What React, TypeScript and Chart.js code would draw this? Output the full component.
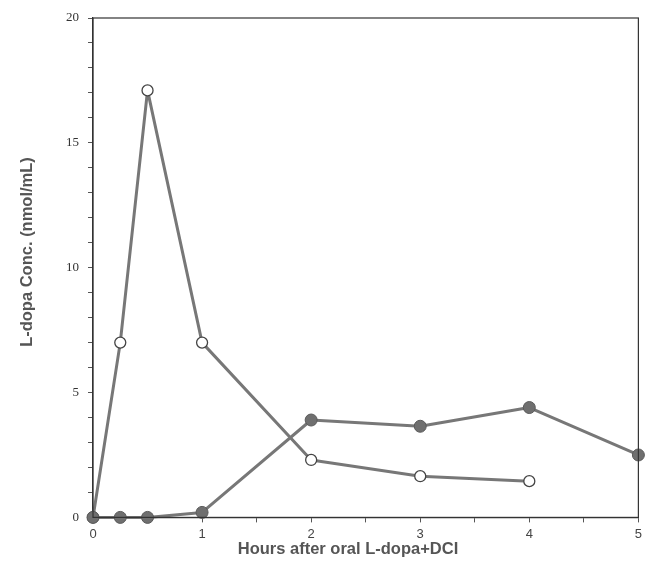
import React, { useEffect, useRef } from "react";
import { Chart, registerables } from "chart.js";

Chart.register(...registerables);

const openHours = [0, 0.25, 0.5, 1, 2, 3, 4];
const openConc = [0, 7.0, 17.1, 7.0, 2.3, 1.65, 1.45];
const filledHours = [0, 0.25, 0.5, 1, 2, 3, 4, 5];
const filledConc = [0, 0, 0, 0.2, 3.9, 3.65, 4.4, 2.5];
const yLabels = [0, 5, 10, 15, 20];
const xLabels = [0, 1, 2, 3, 4, 5];
const xTitle = "Hours after oral L-dopa+DCI";
const yTitle = "L-dopa Conc. (nmol/mL)";

const TITLE_FONT = "bold 16.5px 'Liberation Sans', Arial, sans-serif";

const framePlugin = {
  id: "frame",
  afterDraw(chart: any) {
    const { ctx, chartArea } = chart;
    ctx.save();
    ctx.strokeStyle = "#333";
    ctx.lineWidth = 1.2;
    ctx.strokeRect(chartArea.left, chartArea.top, chartArea.right - chartArea.left, chartArea.bottom - chartArea.top);
    // axis titles
    ctx.fillStyle = "#555";
    ctx.font = TITLE_FONT;
    ctx.textAlign = "center";
    ctx.textBaseline = "middle";
    ctx.fillText(xTitle, chartArea.left + 255, chartArea.bottom + 32);
    ctx.translate(27, chartArea.top + 234);
    ctx.rotate(-Math.PI / 2);
    ctx.fillText(yTitle, 0, 0);
    ctx.restore();
  },
};

export default function App() {
  const ref = useRef<HTMLCanvasElement | null>(null);
  useEffect(() => {
    document.body.style.margin = "0";
    const canvas = ref.current!;
    const chart = new Chart(canvas, {
      type: "line",
      data: {
        datasets: [
          {
            data: filledHours.map((x, i) => ({ x, y: filledConc[i] })),
            borderColor: "#777",
            borderWidth: 3,
            borderJoinStyle: "round",
            pointRadius: 6,
            pointBackgroundColor: "#6f6f6f",
            pointBorderColor: "#5a5a5a",
            pointBorderWidth: 1,
            clip: false as any,
          },
          {
            data: openHours.map((x, i) => ({ x, y: openConc[i] })),
            borderColor: "#777",
            borderWidth: 3,
            borderJoinStyle: "round",
            pointRadius: 5.5,
            pointBackgroundColor: "#fff",
            pointBorderColor: "#444",
            pointBorderWidth: 1.3,
            clip: false as any,
          },
        ],
      },
      options: {
        animation: false,
        responsive: false,
        layout: { padding: { top: 18, left: 57, right: 0, bottom: 38 } },
        plugins: { legend: { display: false }, tooltip: { enabled: false } },
        scales: {
          x: {
            type: "linear",
            min: 0,
            max: 5,
            border: { display: true, color: "#333", width: 1.2 },
            grid: { display: true, drawOnChartArea: false, tickLength: 5, color: "#555" },
            ticks: {
              stepSize: 0.5,
              autoSkip: false,
              maxRotation: 0,
              padding: 4,
              color: "#444",
              font: { family: "Liberation Sans, Arial, sans-serif", size: 13 },
              callback: (v: any) => (Number.isInteger(v) && xLabels.includes(v) ? String(v) : ""),
            },
          },
          y: {
            type: "linear",
            min: 0,
            max: 20,
            border: { display: true, color: "#333", width: 1.2 },
            grid: { display: true, drawOnChartArea: false, tickLength: 5, color: "#555" },
            ticks: {
              stepSize: 1,
              autoSkip: false,
              padding: 9,
              color: "#333",
              font: { family: "Liberation Serif, Times New Roman, serif", size: 13 },
              callback: (v: any) => (yLabels.includes(v) ? String(v) : ""),
            },
          },
        },
      },
      plugins: [framePlugin],
    });
    return () => chart.destroy();
  }, []);
  return <canvas ref={ref} width={646} height={584} style={{ display: "block" }} />;
}
